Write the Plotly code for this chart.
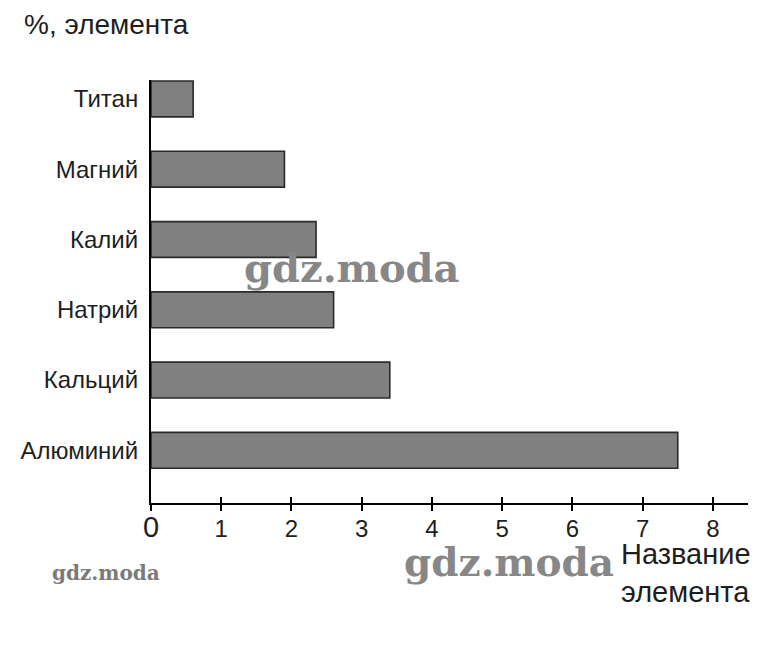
import plotly.graph_objects as go

elements = ["Алюминий", "Кальций", "Натрий", "Калий", "Магний", "Титан"]
percents = [7.5, 3.4, 2.6, 2.35, 1.9, 0.6]
x_ticks = [0, 1, 2, 3, 4, 5, 6, 7, 8]
x_tick_text = ['<span style="font-size:29px">0</span>', "1", "2", "3", "4", "5", "6", "7", "8"]

FONT = "Liberation Sans, Arial, sans-serif"
INK = "#1e1e1e"
MARK = "#878787"

fig = go.Figure()
fig.add_trace(go.Bar(
    x=percents, y=elements, orientation="h",
    width=0.51,
    marker=dict(color="#808080", line=dict(color="#2a2a2a", width=1.6)),
    showlegend=False, hoverinfo="skip",
))
# invisible trace so the overlay axis (inner half of the ticks) is drawn
fig.add_trace(go.Scatter(x=[0], y=[elements[0]], xaxis="x2", mode="markers",
                         marker=dict(opacity=0), showlegend=False, hoverinfo="skip"))

axis_x = dict(range=[0, 8.5], tickvals=x_ticks, showgrid=False, zeroline=False,
              showline=True, linecolor="black", linewidth=2, tickcolor="black", tickwidth=1.5)

# page body has an 8px margin, so the figure is shrunk by that much
fig.update_layout(
    width=759, height=639,
    margin=dict(l=139, r=19, t=72, b=144),
    paper_bgcolor="white", plot_bgcolor="white",
    font=dict(family=FONT, color=INK),
    xaxis=dict(**axis_x, ticktext=x_tick_text, ticks="outside", ticklen=6,
               tickfont=dict(size=24, color=INK), ticklabelstandoff=-3),
    xaxis2=dict(**axis_x, overlaying="x", anchor="y", side="bottom", ticks="inside",
                ticklen=6, showticklabels=False),
    yaxis=dict(categoryorder="array", categoryarray=elements, range=[-0.75, 5.27],
               showgrid=False, zeroline=False, showline=True, linecolor="black", linewidth=2,
               ticks="", tickfont=dict(size=24, color=INK), ticklabelstandoff=6),
    annotations=[
        dict(text="%, элемента", xref="paper", yref="paper", x=-0.215, y=1.132,
             xanchor="left", yanchor="middle", showarrow=False, borderpad=0,
             font=dict(size=28, color=INK)),
        dict(text="Название<br>элемента", xref="paper", yref="paper", x=1.007, y=-0.08,
             xanchor="right", yanchor="top", align="left", showarrow=False, borderpad=0,
             font=dict(size=29, color=INK)),
        dict(text="<b>gdz.moda</b>", xref="paper", yref="paper", x=0.153, y=0.556,
             xanchor="left", yanchor="middle", showarrow=False,
             font=dict(family="DejaVu Serif, serif", size=40, color=MARK)),
        dict(text="<b>gdz.moda</b>", xref="paper", yref="paper", x=0.42, y=-0.139,
             xanchor="left", yanchor="middle", showarrow=False,
             font=dict(family="DejaVu Serif, serif", size=39, color=MARK)),
        dict(text="<b>gdz.moda</b>", xref="paper", yref="paper", x=-0.17, y=-0.165,
             xanchor="left", yanchor="middle", showarrow=False,
             font=dict(family="DejaVu Serif, serif", size=20, color="#7a7a7a")),
    ],
)

fig.write_html("out.html")
